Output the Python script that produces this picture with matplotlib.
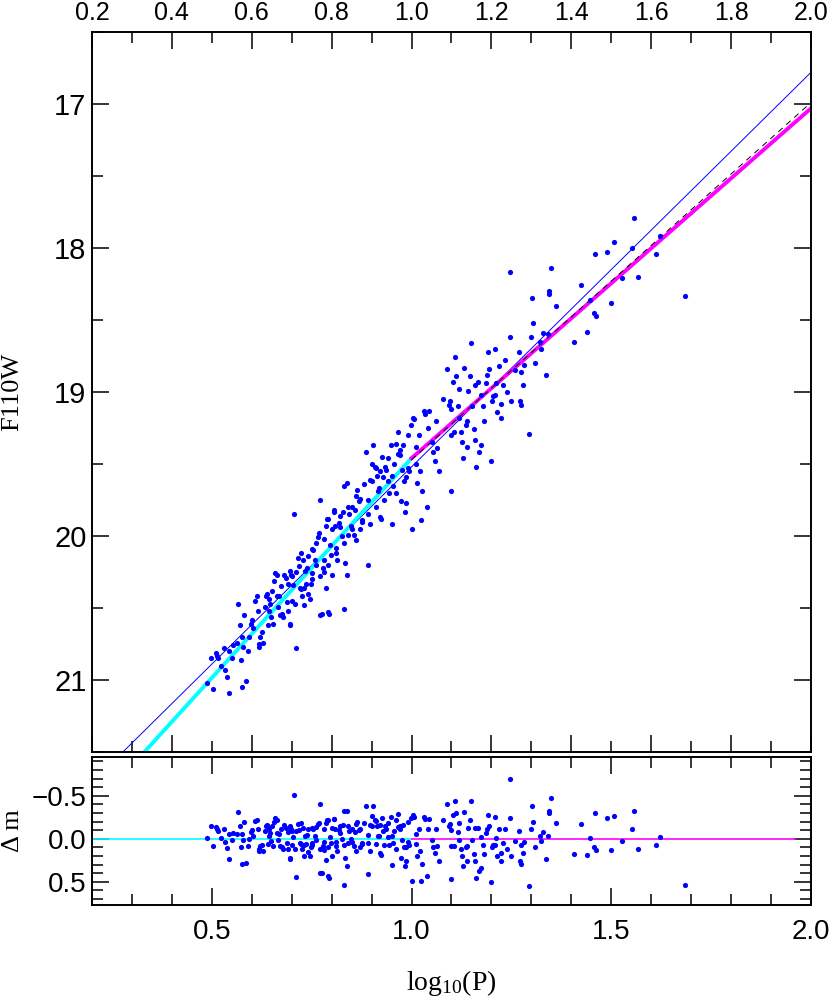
import numpy as np
import matplotlib
matplotlib.use("Agg")
import matplotlib.pyplot as plt
from matplotlib.ticker import MultipleLocator, FuncFormatter

plt.rcParams["font.family"] = ["Liberation Sans", "DejaVu Sans"]
plt.rcParams["mathtext.fontset"] = "custom"
plt.rcParams["mathtext.rm"] = "Liberation Serif"
plt.rcParams["mathtext.it"] = "Liberation Serif:italic"

# log10(P) and F110W magnitude of each Cepheid
log_p = [
    0.487, 0.497, 0.511, 0.513, 0.516, 0.504, 0.524, 0.532, 0.537, 0.542,
    0.542, 0.553, 0.562, 0.566, 0.575, 0.577, 0.574, 0.575, 0.586, 0.590,
    0.593, 0.599, 0.603, 0.609, 0.613, 0.615, 0.617, 0.619, 0.626, 0.628,
    0.632, 0.635, 0.639, 0.642, 0.643, 0.646, 0.648, 0.652, 0.656, 0.659,
    0.663, 0.662, 0.666, 0.668, 0.672, 0.676, 0.679, 0.681, 0.685, 0.688,
    0.692, 0.695, 0.697, 0.696, 0.699, 0.701, 0.703, 0.707, 0.712, 0.708,
    0.716, 0.719, 0.723, 0.720, 0.723, 0.725, 0.728, 0.732, 0.734, 0.736,
    0.738, 0.741, 0.745, 0.748, 0.752, 0.752, 0.754, 0.758, 0.762, 0.765,
    0.769, 0.772, 0.772, 0.775, 0.778, 0.781, 0.782, 0.785, 0.789, 0.791,
    0.787, 0.791, 0.794, 0.795, 0.798, 0.801, 0.805, 0.807, 0.809, 0.811,
    0.814, 0.818, 0.821, 0.825, 0.828, 0.831, 0.831, 0.838, 0.834, 0.838,
    0.842, 0.844, 0.848, 0.852, 0.855, 0.858, 0.860, 0.864, 0.868, 0.871,
    0.875, 0.877, 0.887, 0.891, 0.891, 0.895, 0.897, 0.900, 0.904, 0.908,
    0.911, 0.913, 0.916, 0.919, 0.921, 0.924, 0.926, 0.929, 0.933, 0.937,
    0.941, 0.944, 0.948, 0.950, 0.953, 0.957, 0.961, 0.966, 0.966, 0.970,
    0.974, 0.977, 0.979, 0.983, 0.985, 0.987, 0.990, 0.993, 0.998, 1.002,
    1.003, 1.007, 1.010, 1.014, 1.019, 1.023, 1.026, 1.030, 1.034, 1.038,
    1.043, 1.050, 1.054, 1.059, 1.063, 1.089, 1.093, 1.096, 1.099, 1.100,
    1.103, 1.107, 1.109, 1.112, 1.116, 1.120, 1.123, 1.126, 1.129, 1.132,
    1.136, 1.138, 1.141, 1.146, 1.149, 1.152, 1.156, 1.160, 1.162, 1.166,
    1.169, 1.173, 1.175, 1.182, 1.186, 1.191, 1.195, 1.198, 1.202, 1.205,
    1.209, 1.211, 1.215, 1.219, 1.223, 1.224, 1.235, 1.239, 1.246, 1.247,
    1.248, 1.268, 1.271, 1.274, 1.275, 1.281, 1.295, 1.299, 1.301, 1.305,
    1.321, 1.324, 1.328, 1.337, 1.341, 1.344, 1.345, 1.348, 1.361, 1.407,
    1.423, 1.440, 1.447, 1.456, 1.460, 1.463, 1.489, 1.500, 1.507, 1.526,
    1.553, 1.556, 1.566, 1.613, 1.623, 1.685,
    0.600, 0.620, 0.640, 0.650, 0.670, 0.690, 0.700, 0.710, 0.730, 0.740,
    0.750, 0.760, 0.770, 0.780, 0.790, 0.800, 0.810, 0.820, 0.830, 0.840,
    0.850, 0.860, 0.870, 0.880, 0.890, 0.900, 0.910, 0.920, 0.930, 0.940,
    0.950, 0.960, 0.970, 0.980, 0.990, 1.010, 1.020, 1.040, 1.060, 1.070,
    1.080, 1.100, 1.120, 1.140, 1.160, 1.180, 1.190, 1.210, 1.230, 1.260,
    1.280, 1.310, 0.580, 0.550, 0.530, 0.570,
]
f110w = [
    21.02, 20.85, 20.81, 20.83, 20.85, 21.06, 20.90, 20.93, 20.98, 21.09,
    20.80, 20.76, 20.74, 20.47, 20.70, 20.77, 20.86, 21.05, 21.01, 20.80,
    20.70, 20.61, 20.64, 20.45, 20.42, 20.52, 20.75, 20.77, 20.67, 20.74,
    20.49, 20.42, 20.40, 20.44, 20.52, 20.47, 20.56, 20.61, 20.31, 20.26,
    20.27, 20.42, 20.49, 20.42, 20.35, 20.54, 20.56, 20.27, 20.29, 20.46,
    20.52, 20.61, 20.62, 20.24, 20.27, 20.28, 20.34, 19.85, 20.78, 20.47,
    20.15, 20.21, 20.12, 20.36, 20.37, 20.42, 20.17, 20.48, 20.24, 20.33,
    20.22, 20.40, 20.44, 20.33, 20.26, 20.09, 20.10, 20.17, 20.20, 20.01,
    19.98, 19.75, 20.55, 20.54, 20.22, 20.17, 20.25, 19.93, 19.88, 19.88,
    20.36, 20.53, 20.54, 20.06, 20.13, 20.27, 19.83, 19.82, 19.93, 20.12,
    20.17, 19.91, 19.94, 20.00, 19.83, 20.51, 19.65, 19.63, 20.19, 20.27,
    19.99, 19.85, 19.93, 19.80, 19.99, 19.82, 20.03, 19.68, 19.76, 19.74,
    19.89, 19.90, 19.42, 20.20, 19.75, 19.92, 19.61, 19.50, 19.37, 19.52,
    19.53, 19.58, 19.69, 19.67, 19.87, 19.88, 19.45, 19.59, 19.52, 19.54,
    19.62, 19.70, 19.37, 19.92, 19.65, 19.50, 19.36, 19.28, 19.43, 19.44,
    19.76, 19.54, 19.37, 19.83, 19.77, 19.59, 19.53, 19.55, 19.23, 19.95,
    19.18, 19.19, 19.50, 19.63, 19.30, 19.89, 19.69, 19.13, 19.15, 19.80,
    19.13, 19.35, 19.42, 19.48, 19.39, 18.84, 19.09, 19.06, 19.69, 19.30,
    18.93, 19.28, 18.76, 18.89, 19.10, 19.18, 19.28, 19.35, 19.46, 18.83,
    19.23, 19.38, 18.99, 18.89, 18.66, 19.10, 19.26, 19.33, 19.52, 18.93,
    19.42, 19.02, 19.37, 19.20, 18.94, 18.72, 18.84, 19.48, 19.06, 19.03,
    18.70, 18.94, 19.14, 18.82, 19.08, 19.18, 18.78, 19.00, 18.62, 18.17,
    19.06, 18.72, 19.06, 19.09, 18.86, 18.81, 19.29, 18.62, 18.35, 18.52,
    18.65, 18.70, 18.59, 18.88, 18.60, 18.30, 18.32, 18.14, 18.40, 18.65,
    18.26, 18.58, 18.36, 18.45, 18.04, 18.47, 18.03, 18.38, 17.96, 18.21,
    18.00, 17.79, 18.20, 18.04, 17.92, 18.33,
    20.58, 20.70, 20.62, 20.38, 20.55, 20.33, 20.45, 20.25, 20.36, 20.14,
    20.30, 20.05, 20.28, 20.02, 20.20, 19.95, 20.08, 19.86, 20.05, 19.80,
    19.95, 19.72, 19.95, 19.64, 19.85, 19.62, 19.80, 19.55, 19.75, 19.46,
    19.58, 19.70, 19.40, 19.62, 19.30, 19.38, 19.55, 19.25, 19.20, 19.55,
    19.05, 19.12, 18.98, 19.20, 18.95, 19.10, 18.88, 19.02, 18.95, 18.85,
    18.95, 18.80, 20.55, 20.85, 20.78, 20.62,
]

# fitted relations m = zero + slope * (logP - 1)
short_fit = (19.46, -3.05)   # P < 10 d, cyan
long_fit = (19.46, -2.43)    # P > 10 d, magenta
all_fit = (19.52, -2.74)     # single fit, blue
ref_fit = (19.47, -2.48)     # dashed reference

x = np.array(log_p)
m = np.array(f110w)


def line(fit, xs):
    return fit[0] + fit[1] * (xs - 1.0)


def minus_fmt(v, pos):
    s = f"{v:.1f}"
    if s == "-0.0":
        s = "0.0"
    return s.replace("-", "\u2212")


# residual against the broken fit
dm = np.where(x < 1.0, m - line(short_fit, x), m - line(long_fit, x))

fig = plt.figure(figsize=(8.30, 10.06), dpi=100)
ax1 = fig.add_axes([0.1108, 0.2525, 0.8663, 0.7157])
ax2 = fig.add_axes([0.1108, 0.1004, 0.8663, 0.1471])

xs_all = np.linspace(0.2, 2.0, 50)
xs_short = np.linspace(0.2, 1.0, 50)
xs_long = np.linspace(1.0, 2.0, 50)

ax1.plot(xs_all, line(all_fit, xs_all), color="blue", lw=0.7, zorder=2)
ax1.plot(xs_short, line(short_fit, xs_short), color="#00FFFF", lw=2.8, zorder=2)
ax1.plot(xs_long, line(long_fit, xs_long), color="#FF00FF", lw=2.8, zorder=2)
ax1.plot(xs_long, line(ref_fit, xs_long), color="black", lw=0.7, dashes=(6, 5), zorder=2)
ax1.scatter(x, m, s=14, color="blue", linewidths=0, zorder=3)

ax1.set_xlim(0.2, 2.0)
ax1.set_ylim(21.5, 16.5)
ax1.xaxis.set_major_locator(MultipleLocator(0.2))
ax1.xaxis.set_minor_locator(MultipleLocator(0.1))
ax1.yaxis.set_major_locator(MultipleLocator(1.0))
ax1.yaxis.set_minor_locator(MultipleLocator(0.5))
ax1.tick_params(axis="x", which="both", labeltop=True, labelbottom=False, labelsize=18, pad=5)
ax1.tick_params(axis="y", labelsize=21, pad=4)

ax2.plot([0.2, 1.0], [0, 0], color="#00FFFF", lw=1.2, zorder=2)
ax2.plot([1.0, 1.96], [0, 0], color="#FF00FF", lw=1.2, zorder=2)
ax2.scatter(x, dm, s=14, color="blue", linewidths=0, zorder=3)
ax2.set_xlim(0.2, 2.0)
ax2.set_ylim(0.77, -0.95)
ax2.xaxis.set_major_locator(MultipleLocator(0.5))
ax2.xaxis.set_minor_locator(MultipleLocator(0.1))
ax2.yaxis.set_major_locator(MultipleLocator(0.5))
ax2.yaxis.set_minor_locator(MultipleLocator(0.1))
ax2.yaxis.set_major_formatter(FuncFormatter(minus_fmt))
ax2.tick_params(axis="x", labelsize=20, pad=10)
ax2.tick_params(axis="y", labelsize=20, pad=4)

for ax in (ax1, ax2):
    ax.tick_params(which="both", direction="in", top=True, right=True, width=1.1)
    ax.tick_params(which="major", length=12)
    ax.tick_params(which="minor", length=8)
    for sp in ax.spines.values():
        sp.set_linewidth(1.4)

fig.text(12 / 830, 1 - 392 / 1006, "F110W", rotation=90, ha="center", va="center",
         family="Liberation Serif", fontsize=19)
fig.text(13 / 830, 1 - 831 / 1006, "Δ m", rotation=90, ha="center", va="center",
         family="Liberation Serif", fontsize=19)
fig.text(451 / 830, 1 - 983 / 1006, r"$\mathrm{log_{10}(P)}$", ha="center", va="center",
         fontsize=20)

fig.savefig("out.png", dpi=100)
